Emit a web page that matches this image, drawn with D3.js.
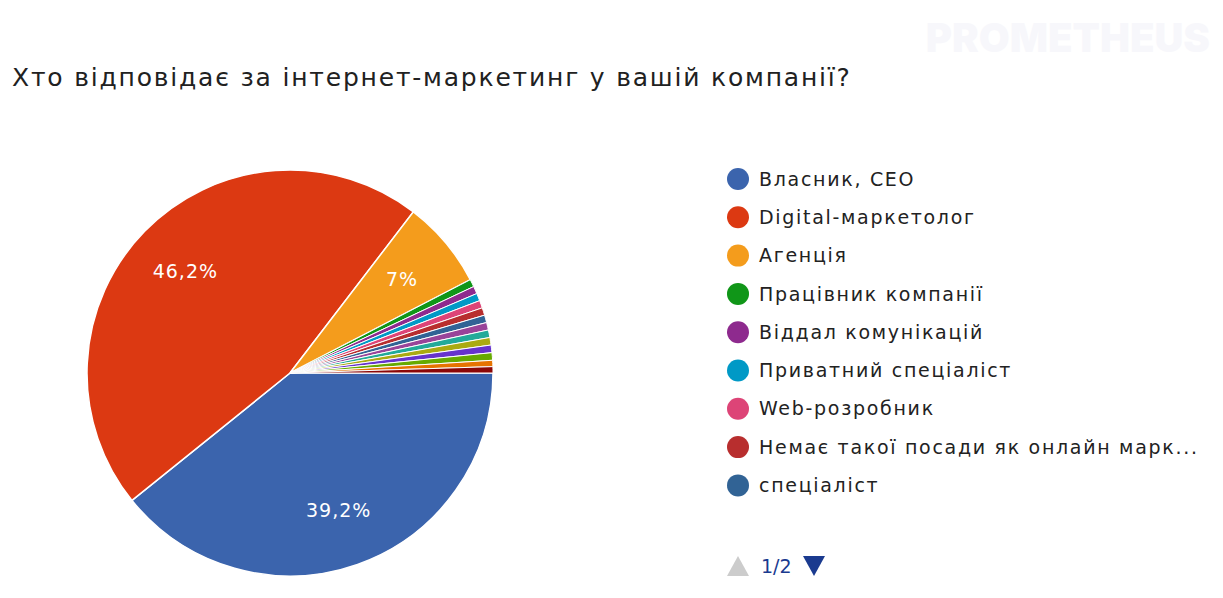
<!DOCTYPE html>
<html><head><meta charset="utf-8">
<script src="https://cdn.jsdelivr.net/npm/d3@7"></script>
<style>body{margin:0;background:#fff;font-family:"DejaVu Sans",sans-serif}</style>
</head><body><div id="chart"></div>
<script>
const categories = ["Власник, CEO", "Digital-маркетолог", "Агенція", "Працівник компанії", "Віддал комунікацій",
  "Приватний спеціаліст", "Web-розробник", "Немає такої посади як онлайн марк...", "спеціаліст",
  "Інше 10", "Інше 11", "Інше 12", "Інше 13", "Інше 14", "Інше 15", "Інше 16"];
const values = [39.2, 46.2, 7, 0.6, 0.6, 0.6, 0.6, 0.6, 0.6, 0.6, 0.6, 0.6, 0.6, 0.6, 0.5, 0.5];
const colors = ["#3b64ad", "#dc3912", "#f49c1c", "#109618", "#8e2a8e", "#0099c6", "#dd4477", "#b82e2e",
  "#316395", "#994499", "#22aa99", "#aaaa11", "#6633cc", "#66aa00", "#e67300", "#8b0707"];
const legendCount = 9;

const W = 1223, H = 598;
const svg = d3.select("#chart").append("svg").attr("width", W).attr("height", H);

svg.append("text").attr("x", 1210).attr("y", 52).attr("text-anchor", "end")
  .style("font-family", "Inter, sans-serif").style("font-weight", "900").style("font-size", "40px")
  .style("fill", "#f7f7fb").text("PROMETHEUS");

svg.append("text").attr("x", 12).attr("y", 86)
  .style("font-size", "25px").style("fill", "#212121").style("letter-spacing", "1.8px")
  .text("Хто відповідає за інтернет-маркетинг у вашій компанії?");

const cx = 290, cy = 373, r = 203;
const data = categories.map((c, i) => ({ name: c, value: values[i], color: colors[i] }));
const pie = d3.pie().sort(null).value(d => d.value).startAngle(Math.PI / 2).endAngle(Math.PI / 2 + 2 * Math.PI);
const arcs = pie(data);
const arc = d3.arc().innerRadius(0).outerRadius(r);
const g = svg.append("g").attr("transform", `translate(${cx},${cy})`);
g.selectAll("path").data(arcs).join("path")
  .attr("d", arc).attr("fill", d => d.data.color)
  .attr("stroke", "#fff").attr("stroke-width", d => d.data.value < 1 ? 1 : 1.5);

const labelArc = d3.arc().innerRadius(r * 0.72).outerRadius(r * 0.72);
g.selectAll("text.pct").data(arcs.filter(d => d.data.value >= 5)).join("text")
  .attr("class", "pct")
  .attr("transform", d => `translate(${labelArc.centroid(d)})`)
  .attr("text-anchor", "middle").attr("dy", "0.35em")
  .style("fill", "#fff").style("font-size", "19px").style("letter-spacing", "1px")
  .text(d => String(d.data.value).replace(".", ",") + "%");

const legend = svg.append("g").attr("transform", "translate(738,179)");
const items = legend.selectAll("g").data(data.slice(0, legendCount)).join("g")
  .attr("transform", (d, i) => `translate(0,${i * 38.3})`);
items.append("circle").attr("r", 11).attr("fill", d => d.color);
items.append("text").attr("x", 21).attr("dy", "0.35em")
  .style("font-size", "19px").style("fill", "#222").style("letter-spacing", "1.7px").text(d => d.name);

const pager = svg.append("g").attr("transform", "translate(738,566)");
pager.append("path").attr("d", "M-11,10 L11,10 L0,-10 Z").attr("fill", "#cccccc");
pager.append("text").attr("x", 23).attr("dy", "0.35em").style("font-size", "19px").style("fill", "#1a3a8f").text("1/2");
pager.append("path").attr("d", "M65,-10 L87,-10 L76,10 Z").attr("fill", "#1a3a8f");
</script></body></html>
